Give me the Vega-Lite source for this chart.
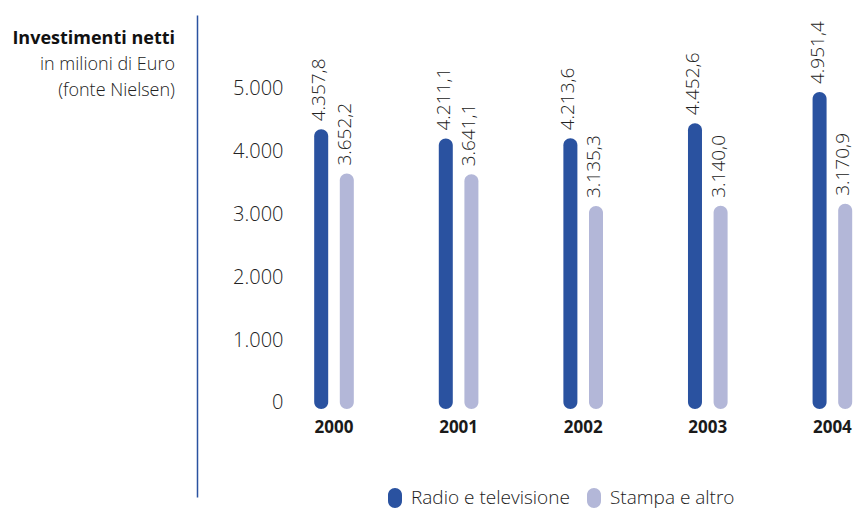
{
  "$schema": "https://vega.github.io/schema/vega-lite/v6.json",
  "width": 555,
  "height": 482,
  "autosize": {"type": "none"},
  "padding": {"left": 300, "top": 15, "right": 0, "bottom": 14},
  "config": {
    "locale": {"number": {"decimal": ",", "thousands": ".", "grouping": [3], "currency": ["", " €"]}},
    "view": {"stroke": null},
    "font": "Open Sans"
  },
  "title": {
    "text": "Investimenti netti",
    "subtitle": ["in milioni di Euro", "(fonte Nielsen)"],
    "anchor": "start",
    "align": "right",
    "frame": "group",
    "dx": -125,
    "offset": -85,
    "fontSize": 18,
    "fontWeight": "bold",
    "color": "#111111",
    "subtitleFontSize": 18,
    "subtitleFontWeight": 300,
    "subtitleColor": "#222222",
    "subtitleLineHeight": 26,
    "subtitlePadding": 8,
    "font": "Open Sans",
    "subtitleFont": "Open Sans"
  },
  "data": {
    "values": [
      {"anno": "2000", "serie": "Radio e televisione", "valore": 4357.8},
      {"anno": "2000", "serie": "Stampa e altro", "valore": 3652.2},
      {"anno": "2001", "serie": "Radio e televisione", "valore": 4211.1},
      {"anno": "2001", "serie": "Stampa e altro", "valore": 3641.1},
      {"anno": "2002", "serie": "Radio e televisione", "valore": 4213.6},
      {"anno": "2002", "serie": "Stampa e altro", "valore": 3135.3},
      {"anno": "2003", "serie": "Radio e televisione", "valore": 4452.6},
      {"anno": "2003", "serie": "Stampa e altro", "valore": 3140.0},
      {"anno": "2004", "serie": "Radio e televisione", "valore": 4951.4},
      {"anno": "2004", "serie": "Stampa e altro", "valore": 3170.9}
    ]
  },
  "encoding": {
    "x": {
      "field": "anno",
      "type": "nominal",
      "scale": {"paddingInner": 0.682, "paddingOuter": 0.0682, "align": 0.835},
      "axis": {
        "title": null,
        "orient": "bottom",
        "offset": -82,
        "domain": false,
        "ticks": false,
        "tickSize": 0,
        "labelPadding": 4,
        "labelAngle": 0,
        "labelBaseline": "top",
        "labelFontSize": 17,
        "labelFontWeight": "bold",
        "labelColor": "#1a1a1a"
      }
    },
    "xOffset": {
      "field": "serie",
      "type": "nominal",
      "sort": ["Radio e televisione", "Stampa e altro"],
      "scale": {"paddingInner": 0.453, "paddingOuter": 0}
    },
    "y": {
      "field": "valore",
      "type": "quantitative",
      "scale": {"domain": [-1497, 6178], "nice": false, "zero": false},
      "axis": {
        "title": null,
        "values": [0, 1000, 2000, 3000, 4000, 5000],
        "format": ",.0f",
        "offset": 103,
        "ticks": false,
        "tickSize": 0,
        "grid": false,
        "labelPadding": -86,
        "labelAlign": "right",
        "labelBaseline": "middle",
        "labelFontSize": 20,
        "labelFontWeight": 300,
        "labelColor": "#222222",
        "domainColor": "#2a52a0",
        "domainWidth": 1.5
      }
    }
  },
  "layer": [
    {
      "mark": {"type": "bar", "cornerRadius": 7},
      "encoding": {
        "y2": {"datum": -95},
        "color": {
          "field": "serie",
          "type": "nominal",
          "scale": {"domain": ["Radio e televisione", "Stampa e altro"], "range": ["#2a52a0", "#b3b7d8"]},
          "legend": {
            "title": null,
            "orient": "none",
            "legendX": 85,
            "legendY": 473,
            "direction": "horizontal",
            "padding": 0,
            "symbolType": "M-0.7,-0.3 A0.7,0.7 0 0 1 0.7,-0.3 L0.7,0.3 A0.7,0.7 0 0 1 -0.7,0.3 Z",
            "symbolSize": 400,
            "symbolStrokeWidth": 0,
            "labelOffset": 6,
            "labelFontSize": 19,
            "labelFontWeight": 300,
            "labelColor": "#1a1a1a",
            "columnPadding": 14
          }
        }
      }
    },
    {
      "mark": {"type": "text", "angle": -90, "align": "left", "baseline": "middle", "dx": 8, "dy": -2, "fontSize": 19, "fontWeight": 300, "color": "#222222"},
      "encoding": {
        "text": {"field": "valore", "type": "quantitative", "format": ",.1f"}
      }
    }
  ]
}
